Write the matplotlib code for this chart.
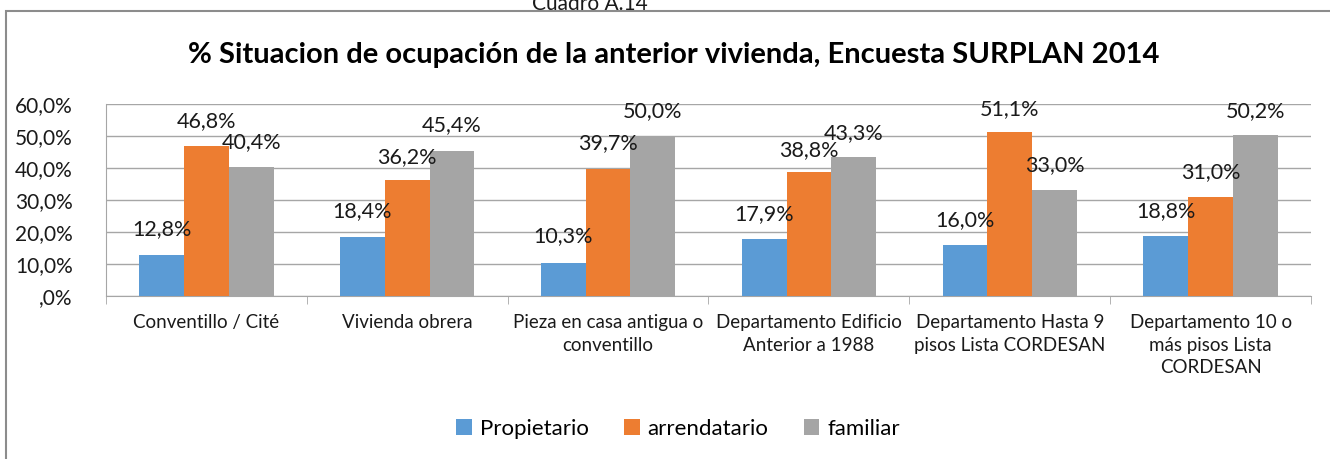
import numpy as np
import matplotlib.pyplot as plt
from matplotlib.patches import Rectangle

# Datos del gráfico
CATEGORIES = [
    "Conventillo / Cité",
    "Vivienda obrera",
    "Pieza en casa antigua o\nconventillo",
    "Departamento Edificio\nAnterior a 1988",
    "Departamento Hasta 9\npisos Lista CORDESAN",
    "Departamento 10 o\nmás pisos Lista\nCORDESAN",
]
PROPIETARIO = [12.8, 18.4, 10.3, 17.9, 16.0, 18.8]
ARRENDATARIO = [46.8, 36.2, 39.7, 38.8, 51.1, 31.0]
FAMILIAR = [40.4, 45.4, 50.0, 43.3, 33.0, 50.2]
SERIES = ["Propietario", "arrendatario", "familiar"]
Y_TICKS = [0, 10, 20, 30, 40, 50, 60]
Y_TICK_LABELS = [",0%", "10,0%", "20,0%", "30,0%", "40,0%", "50,0%", "60,0%"]

# Posición vertical de las etiquetas de datos (como en el original de Excel)
LABEL_Y = [
    [20.9, 26.6, 18.75, 25.6, 23.75, 26.6],
    [54.7, 43.4, 47.8, 45.6, 58.4, 38.75],
    [48.1, 53.4, 57.8, 50.9, 40.9, 57.8],
]

COLORS = ["#5B9BD5", "#ED7D31", "#A5A5A5"]
FONT = "Lato"
BAR_W = 0.223
TEXT_COLOR = "#1a1a1a"

plt.rcParams["font.family"] = [FONT, "DejaVu Sans"]

fig = plt.figure(figsize=(13.3, 4.59), dpi=100)
ax = fig.add_axes([106 / 1330, 1 - 296 / 459, (1311 - 106) / 1330, 192 / 459])

# marco del gráfico
fig.patches.append(Rectangle((6 / 1330, -0.1), 1.2, 1 - 11 / 459 + 0.1,
                             transform=fig.transFigure, fill=False,
                             edgecolor="#8c8c8c", linewidth=1.5))

x = np.arange(len(CATEGORIES))
values = [PROPIETARIO, ARRENDATARIO, FAMILIAR]
for i, (name, vals, color) in enumerate(zip(SERIES, values, COLORS)):
    pos = x + (i - 1) * BAR_W
    ax.bar(pos, vals, width=BAR_W, color=color, label=name, zorder=3)
    for px, v, ly in zip(pos, vals, LABEL_Y[i]):
        ax.text(px, ly, f"{v:.1f}%".replace(".", ","), ha="center", va="center",
                fontsize=15.5, color=TEXT_COLOR, zorder=4)

ax.set_xlim(-0.5, len(CATEGORIES) - 0.5)
ax.set_ylim(0, 60)
ax.set_yticks(Y_TICKS)
ax.set_yticklabels(Y_TICK_LABELS, fontsize=15, color=TEXT_COLOR)
ax.yaxis.grid(True, color="#a6a6a6", linewidth=1)
ax.set_axisbelow(True)
ax.tick_params(axis="y", length=0, pad=24)

ax.set_xticks(x)
ax.set_xticklabels(CATEGORIES, fontsize=13.5, color=TEXT_COLOR, linespacing=1.4)
ax.set_xticks(np.arange(len(CATEGORIES) + 1) - 0.5, minor=True)
ax.tick_params(axis="x", which="major", length=0, pad=13)
ax.tick_params(axis="x", which="minor", length=6, color="#a6a6a6")

for side in ["top", "right"]:
    ax.spines[side].set_visible(False)
ax.spines["left"].set_color("#a6a6a6")
ax.spines["bottom"].set_color("#a6a6a6")

fig.text(674 / 1330, 1 - 55 / 459,
         "% Situacion de ocupación de la anterior vivienda, Encuesta SURPLAN 2014",
         ha="center", va="center", fontsize=21, fontweight="bold", color="black")
fig.text(590 / 1330, 1 - 4 / 459, "Cuadro A.14", ha="center", va="center",
         fontsize=15, color=TEXT_COLOR)

fig.legend(loc="center", bbox_to_anchor=(678 / 1330, 1 - 429 / 459), ncol=3,
           frameon=False, fontsize=16, handlelength=0.7, handleheight=0.7,
           handletextpad=0.35, columnspacing=1.6)

fig.savefig("out.png", dpi=100)
